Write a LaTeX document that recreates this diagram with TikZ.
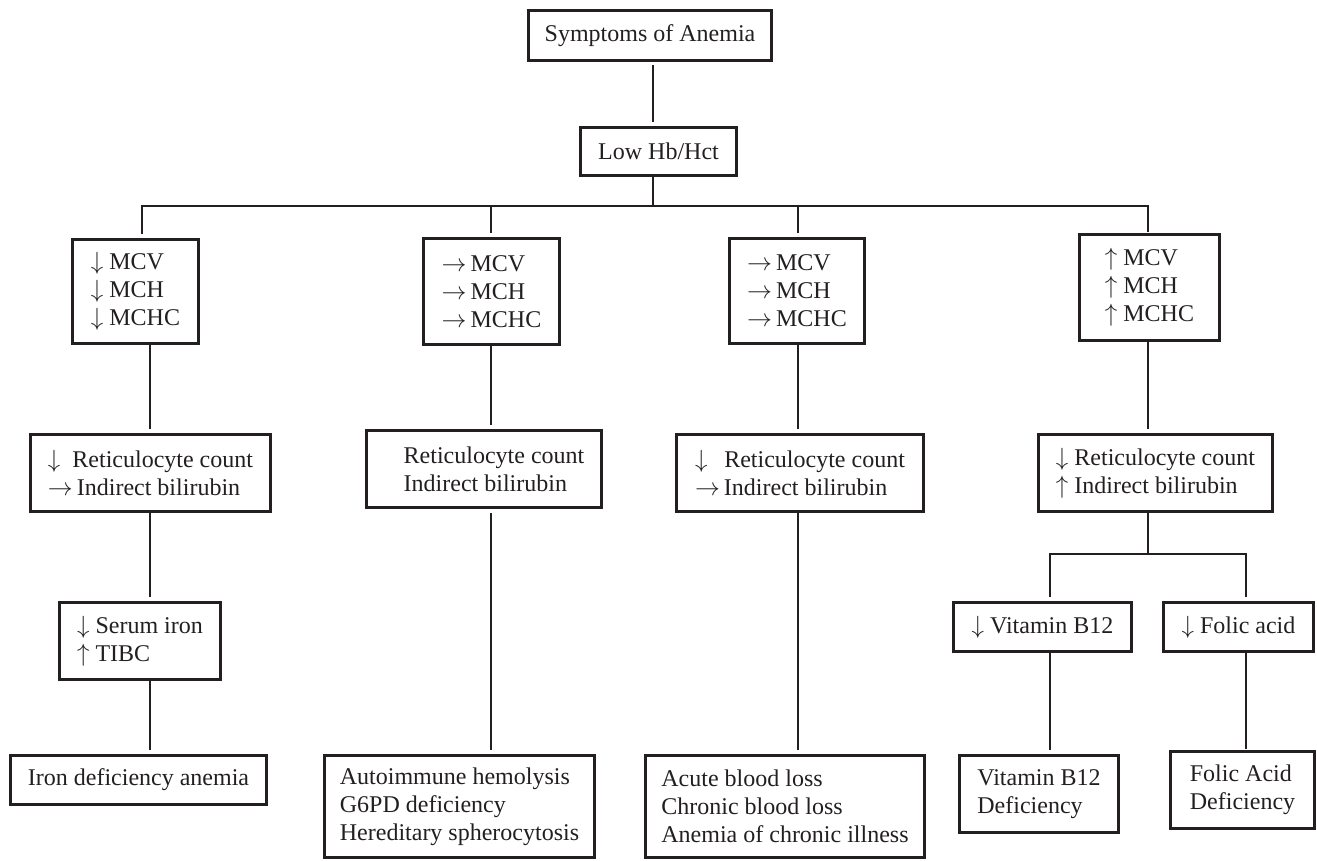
\documentclass[tikz,border=0pt]{standalone}
\usepackage{fontspec}
\setmainfont{Liberation Serif}
\definecolor{ink}{RGB}{35,31,32}
\tikzset{
  box/.style={draw=ink, line width=2.6pt, inner sep=0pt, align=left, text=ink,
    font=\fontsize{24}{28}\selectfont},
  link/.style={draw=ink, line width=2.2pt, line join=miter},
}
\newcommand\mybx[6]{%
  \pgfmathsetmacro\myBW{#4-#2-2.6}\pgfmathsetmacro\myBH{#5-#3-2.6}%
  \pgfmathsetmacro\myCX{(#2+#4)/2}\pgfmathsetmacro\myCY{(#3+#5)/2}%
  \node[box, minimum width=\myBW pt, minimum height=\myBH pt] (#1) at (\myCX,\myCY) {#6};}
\begin{document}
\begin{tikzpicture}[x=1pt,y=-1pt]
\useasboundingbox (0,0) rectangle (1317,861);
% boxes
\mybx{sym}{527}{9}{773}{62}{Symptoms of Anemia}
\mybx{low}{579}{126}{738}{177}{Low Hb/Hct}
\mybx{mcv1}{71}{238}{200}{345}{$\downarrow$ MCV\\$\downarrow$ MCH\\$\downarrow$ MCHC}
\mybx{mcv2}{422}{237}{561}{346}{$\rightarrow$\,MCV\\$\rightarrow$\,MCH\\$\rightarrow$\,MCHC}
\mybx{mcv3}{728}{237}{866}{345}{$\rightarrow$\,MCV\\$\rightarrow$\,MCH\\$\rightarrow$\,MCHC}
\mybx{mcv4}{1078}{233}{1221}{342}{$\uparrow$ MCV\\$\uparrow$ MCH\\$\uparrow$ MCHC}
\mybx{ret1}{29}{433}{272}{513}{$\downarrow$\hspace{0.5em}Reticulocyte count\\$\rightarrow$\,Indirect bilirubin}
\mybx{ret2}{365}{429}{603}{509}{\hspace*{20pt}Reticulocyte count\\\hspace*{20pt}Indirect bilirubin}
\mybx{ret3}{675}{433}{925}{513}{$\downarrow$\hspace{0.7em}Reticulocyte count\\$\rightarrow$\,Indirect bilirubin}
\mybx{ret4}{1037}{433}{1274}{513}{$\downarrow$ Reticulocyte count\\$\uparrow$ Indirect bilirubin}
\mybx{ser}{58}{601}{222}{681}{$\downarrow$ Serum iron\\$\uparrow$ TIBC}
\mybx{vit}{952}{601}{1133}{653}{$\downarrow$ Vitamin B12}
\mybx{fol}{1162}{601}{1315}{653}{$\downarrow$ Folic acid}
\mybx{iron}{9}{754}{268}{806}{Iron deficiency anemia}
\mybx{bot2}{323}{754}{596}{859}{Autoimmune hemolysis\\G6PD deficiency\\Hereditary spherocytosis}
\mybx{bot3}{644}{754}{926}{859}{Acute blood loss\\Chronic blood loss\\Anemia of chronic illness}
\mybx{vitdef}{958}{754}{1120}{834}{Vitamin B12\\Deficiency}
\mybx{foldef}{1169}{750}{1316}{830}{Folic Acid\\Deficiency}
% guide coordinates
\coordinate (xc) at (653,0);
\coordinate (bar) at (653,206);
\coordinate (x1) at (142,0);
\coordinate (x1b) at (150,0);
\coordinate (x2) at (491,0);
\coordinate (x3) at (798,0);
\coordinate (x4) at (1148,0);
\coordinate (br) at (1148,554);
\coordinate (xv) at (1050,0);
\coordinate (xf) at (1246,0);
% connectors
\draw[link, shorten <=3pt, shorten >=4pt] (sym.south -| xc) -- (low.north -| xc);
\draw[link] (low.south -| xc) -- (bar);
\draw[link] ([yshift=4pt]mcv1.north -| x1) |- (bar -| x4) -- ([yshift=1pt]mcv4.north -| x4);
\draw[link, shorten >=4pt] (bar -| x2) -- (mcv2.north -| x2);
\draw[link, shorten >=4pt] (bar -| x3) -- (mcv3.north -| x3);
% column 1
\draw[link, shorten >=4pt] (mcv1.south -| x1b) -- (ret1.north -| x1b);
\draw[link, shorten >=4pt] (ret1.south -| x1b) -- (ser.north -| x1b);
\draw[link, shorten >=4pt] (ser.south -| x1b) -- (iron.north -| x1b);
% column 2
\draw[link, shorten >=4pt] (mcv2.south -| x2) -- (ret2.north -| x2);
\draw[link, shorten <=4pt, shorten >=4pt] (ret2.south -| x2) -- (bot2.north -| x2);
% column 3
\draw[link, shorten >=4pt] (mcv3.south -| x3) -- (ret3.north -| x3);
\draw[link, shorten >=4pt] (ret3.south -| x3) -- (bot3.north -| x3);
% column 4
\draw[link, shorten >=4pt] (mcv4.south -| x4) -- (ret4.north -| x4);
\draw[link] (ret4.south -| x4) -- (br);
\draw[link] ([yshift=4pt]vit.north -| xv) |- (br -| xf) -- ([yshift=4pt]fol.north -| xf);
\draw[link, shorten >=4pt] (vit.south -| xv) -- (vitdef.north -| xv);
\draw[link, shorten >=1pt] (fol.south -| xf) -- (foldef.north -| xf);
\end{tikzpicture}
\end{document}
